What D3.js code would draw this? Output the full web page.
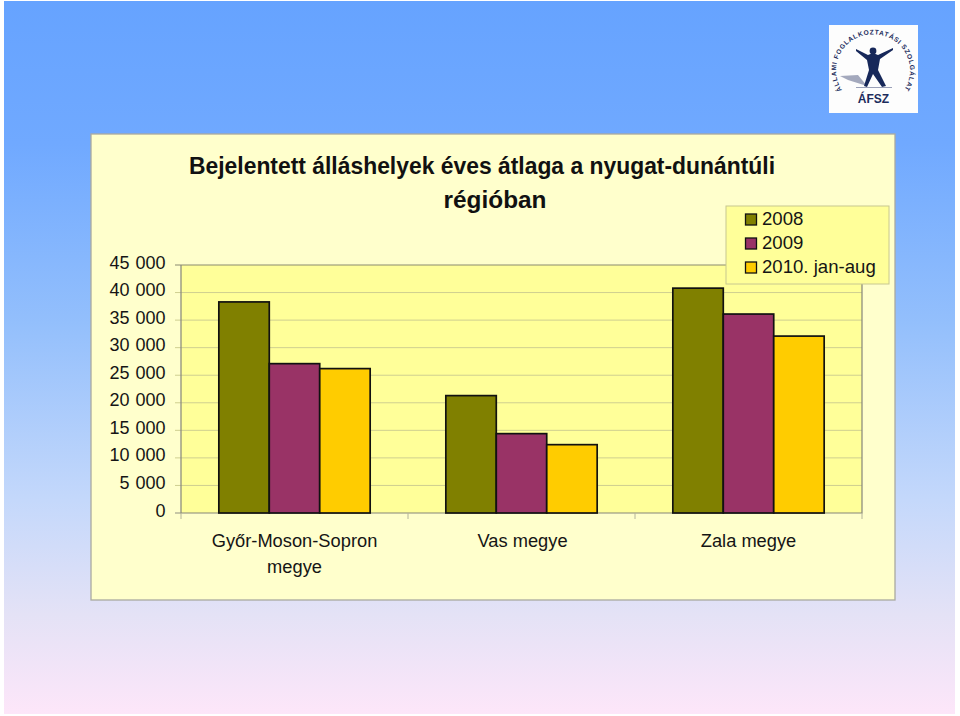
<!DOCTYPE html>
<html><head><meta charset="utf-8">
<script src="https://cdn.jsdelivr.net/npm/d3@7"></script>
<style>html,body{margin:0;padding:0;background:#fff}svg{display:block}text{font-family:"Liberation Sans",Arial,sans-serif}</style>
</head><body><div id="c"></div>
<script>
const categories = [["Győr-Moson-Sopron","megye"],["Vas megye"],["Zala megye"]];
const seriesNames = ["2008","2009","2010. jan-aug"];
const values2008 = [38300,21300,40800];
const values2009 = [27100,14400,36100];
const values2010 = [26200,12400,32100];
const colors = ["#808000","#993366","#ffcc00"];
const yTicks = [0,5000,10000,15000,20000,25000,30000,35000,40000,45000];
const titleLines = ["Bejelentett álláshelyek éves átlaga a nyugat-dunántúli","régióban"];
const seriesValues = [values2008,values2009,values2010];

const svg = d3.select("#c").append("svg").attr("width",960).attr("height",716);
const defs = svg.append("defs");
const g = defs.append("linearGradient").attr("id","bg").attr("x1",0).attr("x2",0).attr("y1",0).attr("y2",1);
[[0,"#66a3ff"],[0.2,"#70a9ff"],[0.45,"#93bffc"],[0.7,"#c4d8fb"],[0.86,"#e4e2f6"],[1,"#fde6f9"]]
  .forEach(d=>g.append("stop").attr("offset",d[0]).attr("stop-color",d[1]));
svg.append("rect").attr("width",960).attr("height",716).attr("fill","#fff");
svg.append("rect").attr("x",4).attr("y",1).attr("width",951).attr("height",713).attr("fill","url(#bg)");

// chart card
svg.append("rect").attr("x",91).attr("y",134).attr("width",804).attr("height",466)
  .attr("fill","#ffffcc").attr("stroke","#aaaaa0").attr("stroke-width",1.3);

const x0 = d3.scaleBand().domain(d3.range(categories.length)).range([181,862]);
const x1 = d3.scaleBand().domain(d3.range(seriesNames.length)).range([0,x0.bandwidth()]).paddingInner(0).paddingOuter(0.75);
const y = d3.scaleLinear().domain([0,45000]).range([513,265]);

svg.append("rect").attr("x",181).attr("y",265).attr("width",681).attr("height",248).attr("fill","#ffff99");
// gridlines
svg.append("g").selectAll("line").data(yTicks.slice(1)).join("line")
  .attr("x1",175).attr("x2",862).attr("y1",d=>y(d)).attr("y2",d=>y(d))
  .attr("stroke",d=>d===45000?"#8a8a70":"#cfcf90").attr("stroke-width",1);
// axis frame
svg.append("path").attr("d",`M181,265V513H862V265`).attr("fill","none").attr("stroke","#85857a").attr("stroke-width",1.2);
svg.append("line").attr("x1",175).attr("x2",181).attr("y1",y(0)).attr("y2",y(0)).attr("stroke","#8f8f80");
svg.append("g").selectAll("line").data(d3.range(categories.length+1)).join("line")
  .attr("x1",d=>181+d*x0.bandwidth()).attr("x2",d=>181+d*x0.bandwidth()).attr("y1",513).attr("y2",519).attr("stroke","#b4b49a");
// y labels
svg.append("g").selectAll("text").data(yTicks).join("text")
  .attr("x",165.5).attr("y",d=>y(d)+3.5).attr("text-anchor","end").attr("font-size",18).attr("fill","#151515")
  .attr("word-spacing",1)
  .text(d=>d===0?"0":d3.format(",")(d).replace(","," "));
// bars
seriesValues.forEach((vals,s)=>{
  svg.append("g").selectAll("rect").data(vals).join("rect")
    .attr("x",(d,i)=>x0(i)+x1(s)).attr("width",x1.bandwidth())
    .attr("y",d=>y(d)).attr("height",d=>y(0)-y(d))
    .attr("fill",colors[s]).attr("stroke","#111").attr("stroke-width",1.7);
});
// category labels
categories.forEach((lines,i)=>{
  lines.forEach((t,j)=>svg.append("text").attr("x",x0(i)+x0.bandwidth()/2+(i===1?1:0)).attr("y",547+j*26)
    .attr("text-anchor","middle").attr("font-size",18.3).attr("fill","#151515").text(t));
});
// title
const titleX = [482,495], titleW = [586,103];
titleLines.forEach((t,j)=>svg.append("text").attr("x",titleX[j]).attr("y",174+j*33.5)
  .attr("text-anchor","middle").attr("font-size",24.5).attr("font-weight","bold").attr("fill","#111")
  .attr("textLength",titleW[j]).attr("lengthAdjust","spacingAndGlyphs").text(t));
// legend
svg.append("rect").attr("x",726).attr("y",206).attr("width",163).attr("height",78).attr("fill","#ffff99").attr("stroke","#c8c890");
seriesNames.forEach((n,i)=>{
  svg.append("rect").attr("x",745.5).attr("y",214+i*24).attr("width",11).attr("height",11)
    .attr("fill",colors[i]).attr("stroke","#111").attr("stroke-width",1.3);
  svg.append("text").attr("x",762).attr("y",225+i*24).attr("font-size",18.6).attr("fill","#151515").text(n);
});
// logo
const logo = svg.append("g");
logo.append("rect").attr("x",829).attr("y",25).attr("width",89).attr("height",88).attr("fill","#fdfdfd");
defs.append("path").attr("id","arc").attr("d","M842,90 A37,36 0 1 1 904,90");
logo.append("text").attr("font-size",6.6).attr("font-weight","bold").attr("font-family","Liberation Serif").attr("fill","#1c2c5c")
  .append("textPath").attr("href","#arc").attr("textLength",155).attr("lengthAdjust","spacing").text("ÁLLAMI FOGLALKOZTATÁSI SZOLGÁLAT");
logo.append("path").attr("d","M840,76 L858,75 L867,86 L848,80Z").attr("fill","#a4a9bd");
logo.append("line").attr("x1",856).attr("x2",892).attr("y1",87.5).attr("y2",87.5).attr("stroke","#9aa0b8");
logo.append("path").attr("d","M856,49 L868,55 Q873,52 878,55 L893,48 L893,50 L880,59 L878,70 L886,86 L882,87 L873,74 L867,87 L864,86 L869,70 L867,60 L856,51Z").attr("fill","#17285a");
logo.append("circle").attr("cx",873).attr("cy",51).attr("r",3.4).attr("fill","#17285a");
logo.append("text").attr("x",873.5).attr("y",103).attr("text-anchor","middle").attr("font-size",12).attr("font-weight","bold").attr("fill","#1c2c5c").text("ÁFSZ");
</script></body></html>
